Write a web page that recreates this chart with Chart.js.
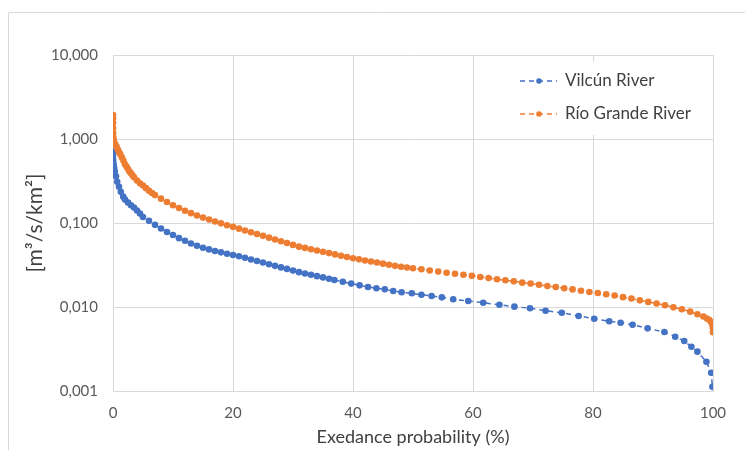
<!DOCTYPE html>
<html>
<head>
<meta charset="utf-8">
<script src="https://cdn.jsdelivr.net/npm/chart.js@4"></script>
<style>
  html, body { margin: 0; padding: 0; background: #fff; }
  #wrap { width: 745px; height: 450px; }
</style>
</head>
<body>
<div id="wrap"><canvas id="fdc" width="745" height="450"></canvas></div>
<script>
// flow duration curves
const seriesNames = ["Vilcún River", "Río Grande River"];

const vilcunX = [0, 0, 0, 0.03, 0.1, 0.2, 0.3, 0.5, 0.7, 1, 1.3, 1.7, 2, 2.5, 3, 3.5, 4, 4.5, 5, 6, 7, 8, 9, 10,
  11, 12, 13, 14, 15, 16, 17, 18, 19, 20, 21, 22, 23, 24, 25, 26, 27, 28, 29, 30, 31, 32, 33, 34, 35, 36,
  36.9, 38.3, 39.7, 41.1, 42.5, 43.9, 45.3, 46.7, 48.1, 49.8, 51.4, 53.1, 54.8, 56.7, 59.2, 61.7, 64.4, 66.9,
  69.5, 72.1, 74.8, 77.6, 80.2, 82.7, 84.6, 86.6, 89.1, 91.9, 93.7, 95.2, 96.4, 97.4, 98.9, 99.7, 99.9];
const vilcunY = [0.72, 0.66, 0.60, 0.55, 0.50, 0.45, 0.41, 0.36, 0.31, 0.27, 0.235, 0.206, 0.19, 0.175, 0.163, 0.153, 0.141, 0.13, 0.118, 0.106, 0.095, 0.086, 0.078, 0.072,
  0.066, 0.0615, 0.057, 0.0535, 0.0508, 0.0485, 0.0465, 0.0447, 0.0431, 0.0416, 0.0402, 0.0385, 0.0368, 0.0353, 0.0338, 0.0323, 0.0309, 0.0296, 0.0284, 0.0272, 0.0260, 0.0251, 0.0242, 0.0233, 0.0225, 0.0217,
  0.0210, 0.0200, 0.0190, 0.0181, 0.0173, 0.0167, 0.01625, 0.0155, 0.01496, 0.01455, 0.0140, 0.01352, 0.01303, 0.01236, 0.01178, 0.01124, 0.01064, 0.01009,
  0.00967, 0.00903, 0.00855, 0.00782, 0.00726, 0.00676, 0.0065, 0.00615, 0.00557, 0.00503, 0.00443, 0.00394, 0.00337, 0.00294, 0.00223, 0.00165, 0.00112];

const rioX = [0, 0, 0, 0.02, 0.03, 0.05, 0.1, 0.2, 0.4, 0.6, 0.8, 1, 1.2, 1.5, 1.75, 2, 2.25, 2.5, 2.75, 3, 3.25, 3.5, 4, 4.5, 5, 5.5, 6, 6.5, 7, 8, 9, 10,
  11, 12, 13, 14, 15, 16, 17, 18, 19, 20, 21, 22, 23, 24, 25, 26, 27, 28, 29, 30, 31, 32, 33, 34, 35, 36, 37, 38, 39, 40,
  41, 42, 43, 44, 45, 46, 47, 48, 49, 50, 51.4, 52.8, 54.2, 55.6, 57, 58.4, 59.8, 61.2, 62.6, 64, 65.4, 66.8, 68.2, 69.6,
  71, 72.4, 73.8, 75.2, 76.6, 78, 79.4, 80.8, 82.2, 83.6, 85, 86.4, 87.8, 89.2, 90.6, 92, 93.4, 94.8, 96.2, 97.4, 98.4,
  99, 99.4, 99.7, 99.9, 100, 100];
const rioY = [1.93, 1.75, 1.55, 1.35, 1.18, 1.05, 0.97, 0.92, 0.86, 0.81, 0.75, 0.70, 0.66, 0.60, 0.55, 0.50, 0.47, 0.44, 0.41, 0.39, 0.37, 0.35, 0.32, 0.297, 0.28, 0.26, 0.242, 0.228, 0.215, 0.195, 0.178, 0.163,
  0.151, 0.140, 0.131, 0.123, 0.116, 0.110, 0.104, 0.099, 0.094, 0.090, 0.0857, 0.0815, 0.0776, 0.0739, 0.0703, 0.0669, 0.0637, 0.0606, 0.0577, 0.0549, 0.0523, 0.0505, 0.0487, 0.0470, 0.0454, 0.0438, 0.0423, 0.0408, 0.0394, 0.0380,
  0.0369, 0.0358, 0.0348, 0.0338, 0.0328, 0.0318, 0.0309, 0.0301, 0.0295, 0.0289, 0.0281, 0.0272, 0.0264, 0.0256, 0.0249, 0.0242, 0.0235, 0.0228, 0.0221, 0.0214, 0.0208, 0.0202, 0.0195, 0.0190,
  0.0184, 0.0178, 0.0173, 0.0167, 0.0162, 0.0156, 0.0151, 0.0147, 0.0142, 0.0137, 0.0131, 0.0126, 0.0120, 0.0115, 0.0110, 0.0105, 0.0099, 0.0094, 0.0088, 0.0082, 0.0077,
  0.0073, 0.0070, 0.0066, 0.0061, 0.0056, 0.0050];

const xTicks = [0, 20, 40, 60, 80, 100];
const yTicks = [0.001, 0.01, 0.1, 1, 10];

const blue = "#4472C4";
const orange = "#ED7D31";
const gridColor = "#d9d9d9";
const fontFam = "Lato, 'Open Sans', sans-serif";

function toPoints(xs, ys) {
  return xs.map((x, i) => ({ x: x, y: ys[i] }));
}

// white page + the thin frame of the original figure
const framePlugin = {
  id: "frame",
  beforeDraw(chart) {
    const ctx = chart.ctx;
    ctx.save();
    ctx.fillStyle = "#fff";
    ctx.fillRect(0, 0, chart.width, chart.height);
    ctx.strokeStyle = gridColor;
    ctx.lineWidth = 1;
    ctx.beginPath();
    ctx.moveTo(8.5, chart.height);
    ctx.lineTo(8.5, 12.5);
    ctx.lineTo(chart.width, 12.5);
    ctx.stroke();
    ctx.restore();
  }
};

// legend sits inside the plot, top right, on a white box
const legendPlugin = {
  id: "innerLegend",
  afterDatasetsDraw(chart) {
    const ctx = chart.ctx;
    const colors = [blue, orange];
    ctx.save();
    ctx.fillStyle = "#fff";
    ctx.fillRect(506, 62, 200, 73);
    seriesNames.forEach((name, i) => {
      const y = 81 + i * 33;
      ctx.strokeStyle = colors[i];
      ctx.lineWidth = 1.5;
      ctx.setLineDash([5, 4]);
      ctx.beginPath();
      ctx.moveTo(520, y);
      ctx.lineTo(557, y);
      ctx.stroke();
      ctx.setLineDash([]);
      ctx.fillStyle = colors[i];
      ctx.beginPath();
      ctx.arc(539, y, 2.8, 0, Math.PI * 2);
      ctx.fill();
      ctx.fillStyle = "#404040";
      ctx.font = "17px " + fontFam;
      ctx.textBaseline = "middle";
      ctx.textAlign = "left";
      ctx.fillText(name, 565, y);
    });
    ctx.restore();
  }
};

new Chart(document.getElementById("fdc"), {
  type: "scatter",
  data: {
    datasets: [{
      label: seriesNames[0],
      data: toPoints(vilcunX, vilcunY),
      showLine: true,
      borderColor: blue,
      backgroundColor: blue,
      borderWidth: 1.5,
      borderDash: [5, 4],
      pointRadius: 3.3,
      pointBorderWidth: 0,
      order: 1
    }, {
      label: seriesNames[1],
      data: toPoints(rioX, rioY),
      showLine: true,
      borderColor: orange,
      backgroundColor: orange,
      borderWidth: 1.5,
      borderDash: [5, 4],
      pointRadius: 3.3,
      pointBorderWidth: 0,
      order: 0
    }]
  },
  options: {
    responsive: false,
    animation: false,
    layout: { padding: { left: 9, right: 32, top: 55, bottom: 0 } },
    plugins: {
      legend: { display: false },
      tooltip: { enabled: false }
    },
    scales: {
      x: {
        type: "linear",
        min: 0,
        max: 100,
        afterBuildTicks: s => { s.ticks = xTicks.map(v => ({ value: v })); },
        afterFit: s => { s.height = 59; },
        grid: { color: gridColor, drawTicks: false },
        border: { color: gridColor },
        ticks: { color: "#595959", font: { family: fontFam, size: 15 }, padding: 13 },
        title: {
          display: true,
          text: "Exedance probability (%)",
          color: "#404040",
          font: { family: fontFam, size: 18 },
          padding: { top: 0, bottom: 2 }
        }
      },
      y: {
        type: "logarithmic",
        min: 0.001,
        max: 10,
        afterBuildTicks: s => { s.ticks = yTicks.map(v => ({ value: v })); },
        afterFit: s => { s.width = 104; },
        grid: { color: gridColor, drawTicks: false },
        border: { color: gridColor },
        ticks: {
          color: "#595959",
          font: { family: fontFam, size: 15 },
          padding: 15,
          callback: v => v.toFixed(3).replace(".", ",")
        },
        title: {
          display: true,
          text: "[m³/s/km²]",
          color: "#404040",
          font: { family: fontFam, size: 21 },
          padding: { top: 14, bottom: 0 }
        }
      }
    }
  },
  plugins: [framePlugin, legendPlugin]
});
</script>
</body>
</html>
